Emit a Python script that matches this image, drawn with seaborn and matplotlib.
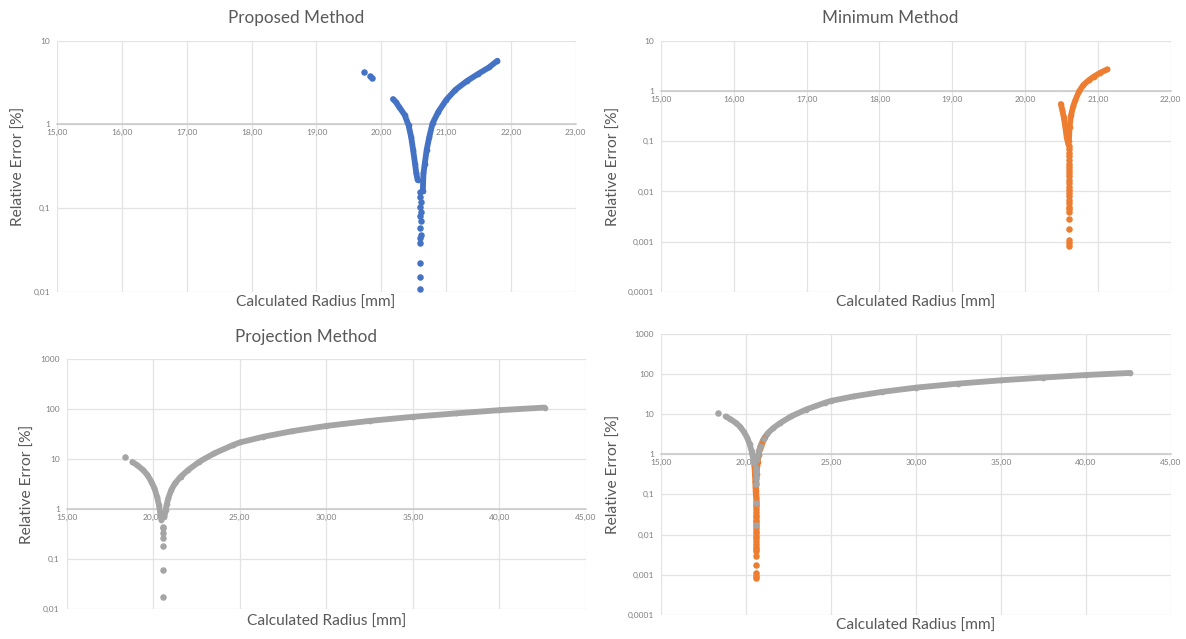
import matplotlib
matplotlib.use("Agg")
import matplotlib.pyplot as plt
import seaborn as sns
from matplotlib.ticker import FixedLocator, FixedFormatter, NullLocator

# ---------------- data ----------------
# Proposed Method
prop_out_r = [19.73, 19.82, 19.85]
prop_out_e = [4.27, 3.75, 3.61]
prop_left_r = [20.18, 20.22, 20.28, 20.36, 20.42, 20.46, 20.49, 20.52, 20.54, 20.56]
prop_left_e = [2.01, 1.87, 1.60, 1.30, 0.98, 0.71, 0.50, 0.34, 0.26, 0.217]
prop_dip_r = [20.59, 20.60, 20.61, 20.60, 20.61, 20.60, 20.61, 20.60, 20.61, 20.60, 20.60, 20.60, 20.60, 20.60]
prop_dip_e = [0.157, 0.137, 0.120, 0.104, 0.091, 0.081, 0.071, 0.0586, 0.048, 0.0437, 0.038, 0.0222, 0.015, 0.011]
prop_right_r = [20.64, 20.65, 20.67, 20.70, 20.74, 20.79, 20.88, 21.00, 21.14, 21.32, 21.49, 21.66, 21.79]
prop_right_e = [0.16, 0.26, 0.34, 0.50, 0.71, 1.03, 1.42, 1.96, 2.58, 3.30, 4.00, 4.80, 5.77]

# Minimum Method
min_left_r = [20.49, 20.51, 20.53, 20.55, 20.57, 20.59]
min_left_e = [0.55, 0.42, 0.30, 0.20, 0.12, 0.09]
min_dip_r = [20.60] * 26
min_dip_e = [0.08, 0.07, 0.0574, 0.05, 0.0423, 0.036, 0.0311, 0.027, 0.023, 0.020,
             0.0169, 0.0145, 0.0125, 0.0107, 0.0092, 0.008, 0.0068, 0.0058, 0.0050,
             0.0044, 0.00385, 0.0029, 0.00177, 0.00108, 0.00095, 0.00084]
min_right_r = [20.60, 20.61, 20.63, 20.66, 20.69, 20.74, 20.80, 20.87, 20.94, 21.03, 21.13]
min_right_e = [0.10, 0.195, 0.33, 0.50, 0.66, 0.98, 1.32, 1.62, 1.92, 2.30, 2.70]

# Projection Method
proj_out_r = [18.35]
proj_out_e = [11.0]
proj_left_r = [18.80, 19.09, 19.41, 19.67, 19.89, 20.07, 20.22, 20.33, 20.41, 20.47]
proj_left_e = [8.77, 7.5, 6.07, 4.82, 3.55, 2.61, 1.78, 1.21, 0.83, 0.61]
proj_dip_r = [20.58, 20.59, 20.59, 20.59, 20.59, 20.59, 20.59]
proj_dip_e = [0.45, 0.417, 0.34, 0.26, 0.187, 0.061, 0.0174]
proj_right_r = [20.65, 20.72, 20.78, 20.87, 21.04, 21.26, 21.59, 22.02, 22.67, 23.54,
                24.63, 25.0, 26.37, 28.0, 30.0, 32.5, 35.0, 37.5, 40.0, 42.61]
proj_right_e = [0.71, 0.96, 1.25, 1.65, 2.42, 3.29, 4.47, 6.07, 8.9, 13.1,
                19.2, 21.5, 28.0, 36.0, 46.0, 58.0, 70.0, 82.0, 95.0, 107.0]

# axis ticks
x_ticks_a = [15, 16, 17, 18, 19, 20, 21, 22, 23]
x_labels_a = ["15,00", "16,00", "17,00", "18,00", "19,00", "20,00", "21,00", "22,00", "23,00"]
x_ticks_b = [15, 16, 17, 18, 19, 20, 21, 22]
x_labels_b = ["15,00", "16,00", "17,00", "18,00", "19,00", "20,00", "21,00", "22,00"]
x_ticks_c = [15, 20, 25, 30, 35, 40, 45]
x_labels_c = ["15,00", "20,00", "25,00", "30,00", "35,00", "40,00", "45,00"]
y_ticks_a = [0.01, 0.1, 1, 10]
y_labels_a = ["0,01", "0,1", "1", "10"]
y_ticks_b = [0.0001, 0.001, 0.01, 0.1, 1, 10]
y_labels_b = ["0,0001", "0,001", "0,01", "0,1", "1", "10"]
y_ticks_c = [0.01, 0.1, 1, 10, 100, 1000]
y_labels_c = ["0,01", "0,1", "1", "10", "100", "1000"]
y_ticks_d = [0.0001, 0.001, 0.01, 0.1, 1, 10, 100, 1000]
y_labels_d = ["0,0001", "0,001", "0,01", "0,1", "1", "10", "100", "1000"]

titles = ["Proposed Method", "Minimum Method", "Projection Method"]
x_title = "Calculated Radius [mm]"
y_title = "Relative Error [%]"

# ---------------- style ----------------
sns.set_theme(style="white")
plt.rcParams["font.family"] = ["Lato", "DejaVu Sans"]

BLUE = "#4472C4"
ORANGE = "#ED7D31"
GRAY = "#A5A5A5"
TXT = "#595959"
TICK = "#7F7F7F"
GRID = "#E3E3E3"
LAB_FS = 11.2
TITLE_FS = 12.3
MS = 22
LW = 4.2
MS_LINE = 17

fig = plt.figure(figsize=(11.86, 6.39), dpi=100)
ax1 = fig.add_axes([0.0482, 0.5430, 0.4373, 0.3933])
ax2 = fig.add_axes([0.5573, 0.5430, 0.4299, 0.3933])
ax3 = fig.add_axes([0.0562, 0.0465, 0.4379, 0.3917])
ax4 = fig.add_axes([0.5573, 0.0380, 0.4300, 0.4393])


def style(ax, xt, xl, yt, yl, xlim, ylim, xlab_pos, ylab_pos):
    ax.set_yscale("log")
    ax.set_xlim(*xlim)
    ax.set_ylim(*ylim)
    ax.xaxis.set_major_locator(FixedLocator(xt))
    ax.xaxis.set_major_formatter(FixedFormatter(xl))
    ax.yaxis.set_major_locator(FixedLocator(yt))
    ax.yaxis.set_major_formatter(FixedFormatter(yl))
    ax.xaxis.set_minor_locator(NullLocator())
    ax.yaxis.set_minor_locator(NullLocator())
    for s in ["top", "right", "left"]:
        ax.spines[s].set_visible(False)
    ax.spines["bottom"].set_position(("data", 1))
    ax.spines["bottom"].set_color("#C8C8C8")
    ax.spines["bottom"].set_linewidth(1.1)
    ax.grid(True, color=GRID, linewidth=0.9)
    ax.set_axisbelow(True)
    ax.tick_params(axis="both", length=0, labelsize=6, labelcolor=TICK)
    ax.tick_params(axis="x", pad=3.5)
    ax.tick_params(axis="y", pad=5)
    ax.set_xlabel(x_title, fontsize=LAB_FS, color=TXT, va="center")
    ax.set_ylabel(y_title, fontsize=LAB_FS, color=TXT, va="center")
    ax.xaxis.set_label_coords(*xlab_pos)
    ax.yaxis.set_label_coords(*ylab_pos)


def branch(ax, r, e, color):
    sns.lineplot(x=r, y=e, sort=False, estimator=None, color=color, linewidth=LW,
                 solid_capstyle="round", ax=ax, zorder=3)
    sns.scatterplot(x=r, y=e, color=color, s=MS_LINE, linewidth=0, ax=ax, zorder=4)


def dots(ax, r, e, color):
    sns.scatterplot(x=r, y=e, color=color, s=MS, linewidth=0, ax=ax, zorder=4)


# Panel 1
style(ax1, x_ticks_a, x_labels_a, y_ticks_a, y_labels_a, (15, 23), (0.01, 10),
      (0.499, -0.044), (-0.074, 0.5))
dots(ax1, prop_out_r, prop_out_e, BLUE)
branch(ax1, prop_left_r, prop_left_e, BLUE)
dots(ax1, prop_dip_r, prop_dip_e, BLUE)
branch(ax1, prop_right_r, prop_right_e, BLUE)
ax1.set_title(titles[0], fontsize=TITLE_FS, color=TXT, x=0.46, y=1.089, va="center", pad=0)

# Panel 2
style(ax2, x_ticks_b, x_labels_b, y_ticks_b, y_labels_b, (15, 22), (0.0001, 10),
      (0.5, -0.044), (-0.093, 0.5))
branch(ax2, min_left_r, min_left_e, ORANGE)
dots(ax2, min_dip_r, min_dip_e, ORANGE)
branch(ax2, min_right_r, min_right_e, ORANGE)
ax2.set_title(titles[1], fontsize=TITLE_FS, color=TXT, x=0.45, y=1.089, va="center", pad=0)

# Panel 3
style(ax3, x_ticks_c, x_labels_c, y_ticks_c, y_labels_c, (15, 45), (0.01, 1000),
      (0.5, -0.05), (-0.074, 0.5))
dots(ax3, proj_out_r, proj_out_e, GRAY)
branch(ax3, proj_left_r, proj_left_e, GRAY)
dots(ax3, proj_dip_r, proj_dip_e, GRAY)
branch(ax3, proj_right_r, proj_right_e, GRAY)
ax3.set_title(titles[2], fontsize=TITLE_FS, color=TXT, x=0.46, y=1.089, va="center", pad=0)

# Panel 4 (overlay)
style(ax4, x_ticks_c, x_labels_c, y_ticks_d, y_labels_d, (15, 45), (0.0001, 1000),
      (0.5, -0.04), (-0.093, 0.5))
branch(ax4, min_left_r, min_left_e, ORANGE)
dots(ax4, min_dip_r, min_dip_e, ORANGE)
branch(ax4, min_right_r, min_right_e, ORANGE)
dots(ax4, proj_out_r, proj_out_e, GRAY)
branch(ax4, proj_left_r, proj_left_e, GRAY)
dots(ax4, proj_dip_r, proj_dip_e, GRAY)
branch(ax4, proj_right_r, proj_right_e, GRAY)

fig.savefig("out.png", dpi=100, facecolor="white")
